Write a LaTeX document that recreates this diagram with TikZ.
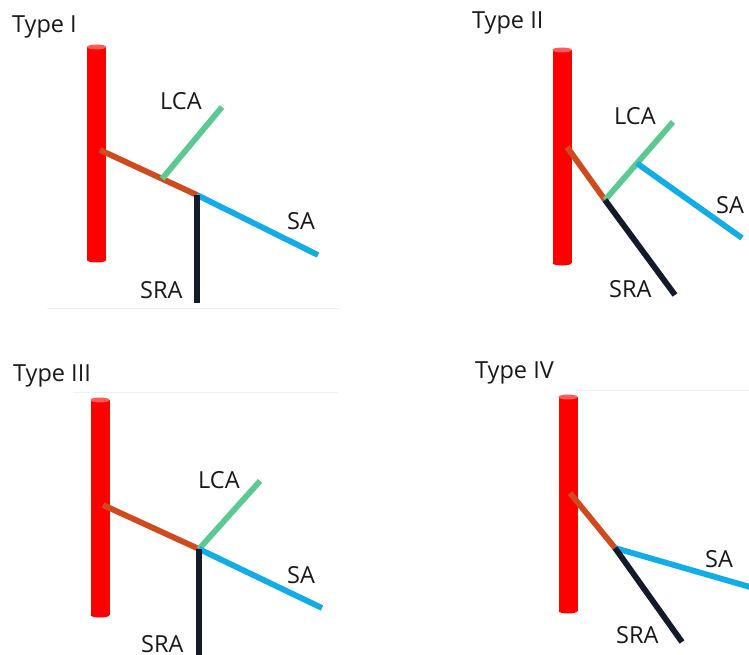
\documentclass[tikz,border=0pt]{standalone}
\usepackage{fontspec}
\setmainfont{Open Sans}
\usetikzlibrary{calc}
\definecolor{tubered}{HTML}{FF0000}
\definecolor{capred}{HTML}{FF5A5A}
\definecolor{trunk}{HTML}{CF4A1C}
\definecolor{lca}{HTML}{5DC992}
\definecolor{sa}{HTML}{12ADE6}
\definecolor{sra}{HTML}{131A2A}
\newcommand\aortatube[3]{%
  \fill[tubered] (#1-9.5,#2) rectangle (#1+9.5,#3);
  \fill[tubered] (#1,#3) ellipse (9.5pt and 2.5pt);
  \fill[capred] (#1,#2) ellipse (9.5pt and 2.5pt);}
\tikzset{
  vessel/.style={line width=5.8pt},
  trunkline/.style={vessel,trunk},
  lcaline/.style={vessel,lca},
  saline/.style={vessel,sa},
  sraline/.style={vessel,sra},
  lbl/.style={font=\fontsize{23.5}{26}\selectfont,text=black!90,inner sep=0pt,anchor=base west},
  ttl/.style={font=\fontsize{23.5}{26}\selectfont,text=black!90,inner sep=0pt,anchor=base west},
  rule/.style={line width=0.8pt,black!6}
}
\begin{document}
\begin{tikzpicture}[x=1pt,y=-1pt]
\useasboundingbox[fill=white] (0,0) rectangle (749,655);

% faint separator rules
\draw[rule] (47,308) -- (340,308);
\draw[rule] (73,392) -- (338,392);
\draw[rule] (575,390) -- (749,390);

% ---------- Type I ----------
\node[ttl] (t1) at (12,33) {Type I};
\aortatube{96.5}{47}{260}
\coordinate (o1) at (100,150);
\coordinate (j1) at (197,195);
\coordinate (k1) at ($(o1)!0.64!(j1)$);
\coordinate (lca1) at (222,107);
\coordinate (sa1) at (318,255);
\coordinate (sra1) at (197,303);
\draw[trunkline] (o1) -- (j1);
\draw[lcaline] (k1) -- (lca1);
\draw[saline] (j1) -- (sa1);
\draw[sraline] (j1) -- (sra1);
\node[lbl] (l1) at (160,110) {LCA};
\node[lbl] (s1) at (287,229) {SA};
\node[lbl] (r1) at (140,298) {SRA};

% ---------- Type II ----------
\node[ttl] (t2) at (472,29) {Type II};
\aortatube{562}{50}{263}
\coordinate (o2) at (567,147);
\coordinate (j2) at (605,200);
\coordinate (lca2) at (673,122);
\coordinate (k2) at ($(j2)!0.47!(lca2)$);
\coordinate (sa2) at (742,238);
\coordinate (sra2) at (675,295);
\draw[trunkline] (o2) -- (j2);
\draw[lcaline] (j2) -- (lca2);
\draw[saline] (k2) -- (sa2);
\draw[sraline] (j2) -- (sra2);
\node[lbl] (l2) at (614,125) {LCA};
\node[lbl] (s2) at (716,213) {SA};
\node[lbl] (r2) at (609,297) {SRA};

% ---------- Type III ----------
\node[ttl] (t3) at (13,381) {Type III};
\aortatube{100}{400}{615}
\coordinate (o3) at (103,505);
\coordinate (j3) at (199,549);
\coordinate (lca3) at (260,481);
\coordinate (sa3) at (322,608);
\coordinate (sra3) at (199,657);
\draw[trunkline] (o3) -- (j3);
\draw[lcaline] (j3) -- (lca3);
\draw[saline] (j3) -- (sa3);
\draw[sraline] (j3) -- (sra3);
\node[lbl] (l3) at (198,488) {LCA};
\node[lbl] (s3) at (287,583) {SA};
\node[lbl] (r3) at (141,652) {SRA};

% ---------- Type IV ----------
\node[ttl] (t4) at (475,378) {Type IV};
\aortatube{568}{397}{611}
\coordinate (o4) at (570,493);
\coordinate (j4) at (615,548);
\coordinate (sa4) at (750,587);
\coordinate (sra4) at (682,642);
\draw[trunkline] (o4) -- (j4);
\draw[saline] (j4) -- (sa4);
\draw[sraline] (j4) -- (sra4);
\node[lbl] (s4) at (705,567) {SA};
\node[lbl] (r4) at (616,643) {SRA};
\end{tikzpicture}
\end{document}
